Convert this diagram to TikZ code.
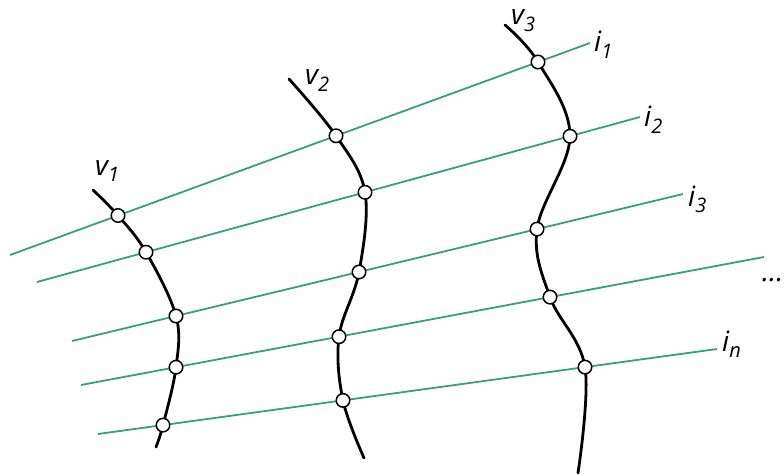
\documentclass[tikz,border=0pt]{standalone}
\usepackage{fontspec}
\setmainfont{Open Sans}
\definecolor{lgreen}{RGB}{50,165,110}
\tikzset{
  gline/.style={draw=lgreen, line width=1.8pt},
  vcurve/.style={draw=black, line width=2.8pt, line cap=round},
  dot/.style={circle, draw=black, fill=white, line width=1.5pt, minimum size=13.5pt, inner sep=0pt},
  lab/.style={inner sep=0pt, font=\fontsize{28}{30}\selectfont\itshape}
}
\newcommand{\sbx}[1]{\raisebox{-0.22em}{\fontsize{20}{22}\selectfont\itshape #1}}
\begin{document}
\begin{tikzpicture}[x=1pt,y=-1pt]
\useasboundingbox (0,0) rectangle (784,476);
% green line endpoints
\coordinate (s1) at (10,255);  \coordinate (e1) at (590,43);
\coordinate (s2) at (37,282);  \coordinate (e2) at (640,117);
\coordinate (s3) at (72,341);  \coordinate (e3) at (683,194);
\coordinate (s4) at (81,385);  \coordinate (e4) at (764,257);
\coordinate (s5) at (98,434);  \coordinate (e5) at (717,349);
\foreach \k in {1,...,5} { \draw[gline] (s\k) -- (e\k); }
% curve points
\coordinate (t1) at (93,190);  \coordinate (b1) at (156,447);
\coordinate (t2) at (289,79);  \coordinate (b2) at (364,458);
\coordinate (t3) at (505,25);  \coordinate (b3) at (578,473);
\coordinate (p11) at (118,215.5); \coordinate (p12) at (146,252.2); \coordinate (p13) at (176,316);
\coordinate (p14) at (176,367.2); \coordinate (p15) at (163,425.1);
\coordinate (p21) at (336,135.8); \coordinate (p22) at (365,192.3); \coordinate (p23) at (359,272);
\coordinate (p24) at (339,336.7); \coordinate (p25) at (343,400.4);
\coordinate (p31) at (538,62);    \coordinate (p32) at (570,136.2); \coordinate (p33) at (537,229.1);
\coordinate (p34) at (550,297.1); \coordinate (p35) at (585,367.1);
\draw[vcurve] plot[smooth, tension=0.6] coordinates {(t1) (p11) (p12) (p13) (p14) (p15) (b1)};
\draw[vcurve] plot[smooth, tension=0.6] coordinates {(t2) (p21) (p22) (p23) (p24) (p25) (b2)};
\draw[vcurve] plot[smooth, tension=0.6] coordinates {(t3) (p31) (p32) (p33) (p34) (p35) (b3)};
\foreach \v in {1,2,3} { \foreach \k in {1,...,5} { \node[dot] (c\v\k) at (p\v\k) {}; } }
% labels
\node[lab, anchor=base west] (lv1) at (95,175) {v\sbx{1}};
\node[lab, anchor=base west] (lv2) at (305,85) {v\sbx{2}};
\node[lab, anchor=base west] (lv3) at (511,25) {v\sbx{3}};
\node[lab, anchor=base west] (li1) at (594,52) {i\sbx{1}};
\node[lab, anchor=base west] (li2) at (644,127) {i\sbx{2}};
\node[lab, anchor=base west] (li3) at (688,206) {i\sbx{3}};
\node[lab, anchor=base west] (lin) at (722,351) {i\sbx{n}};
\node[lab, anchor=base west] (ldots) at (762,281) {...};
\end{tikzpicture}
\end{document}
